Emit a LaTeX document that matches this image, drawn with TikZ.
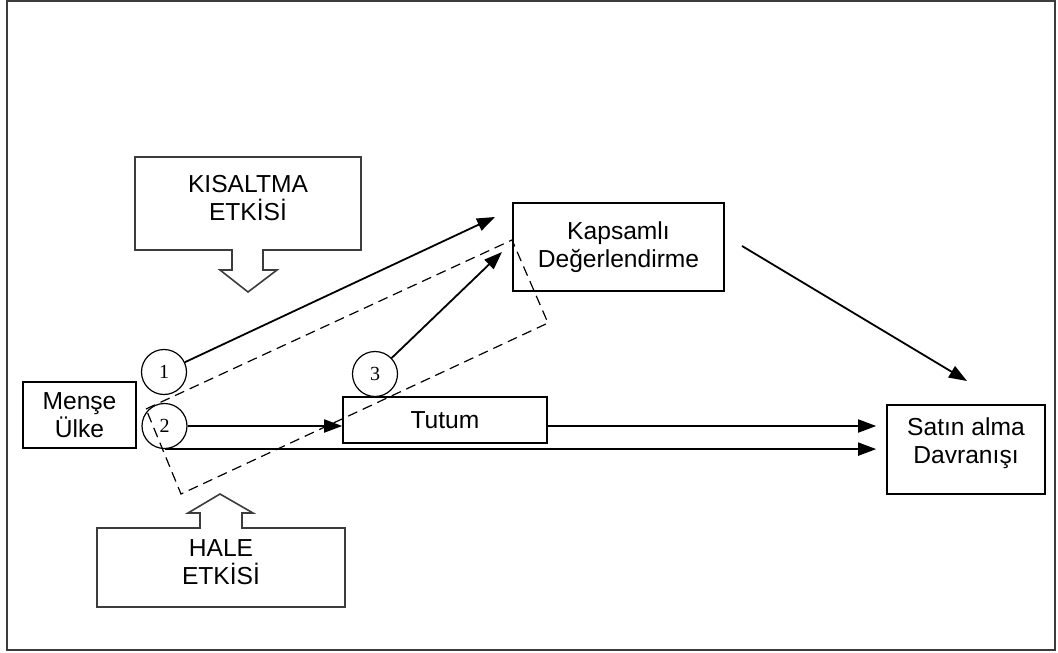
\documentclass[tikz,border=0pt]{standalone}
\usepackage{fontspec}
\setmainfont{Liberation Sans}
\newfontfamily\numfont{Liberation Serif}
\definecolor{framegray}{RGB}{60,60,60}
\definecolor{calloutgray}{RGB}{60,60,60}
\usetikzlibrary{arrows.meta,positioning,calc}

\begin{document}
\begin{tikzpicture}[x=0.5pt, y=-0.5pt,
    box/.style={rectangle, draw, line width=0.8pt, align=center, inner sep=0pt,
                font=\fontsize{12.3}{13.8}\selectfont},
    lbl/.style={align=center, inner sep=0pt, font=\fontsize{12.3}{13.8}\selectfont},
    num/.style={circle, draw, line width=0.6pt, minimum size=22.5pt, inner sep=0pt,
                font=\numfont\fontsize{10}{11}\selectfont},
    link/.style={-{Triangle[length=9pt,width=6.5pt]}, line width=0.9pt},
    callout/.style={draw=calloutgray, line width=0.8pt, line join=miter},
    zone/.style={dash pattern=on 5pt off 3pt, line width=0.6pt}]

    \useasboundingbox (0,0) rectangle (1058,652);
    \draw[framegray, line width=0.9pt] (7,1) rectangle (1055,650);

    % Boxes
    \node[box, minimum width=56.5pt, minimum height=33pt] (mense) at (79.5,415) {Menşe\\Ülke};
    \node[box, minimum width=102pt, minimum height=23pt] (tutum) at (445,420) {Tutum};
    \node[box, minimum width=105.5pt, minimum height=44pt] (kapsam) at (618.5,247) {Kapsamlı\\Değerlendirme};
    \node[box, minimum width=79pt, minimum height=44.5pt] (satin) at (966,449.5) {};
    \node[lbl] (satintext) at (966,443) {Satın alma\\Davranışı};

    % Numbered circles
    \node[num] (c1) at (164,372) {1};
    \node[num] (c2) at (164.5,426) {2};
    \node[num] (c3) at (375,374) {3};

    % Callouts
    \draw[callout] (135,157) -- (361,157) -- (361,250) -- (263,250) -- (263,270) -- (277,270)
        -- (248,292) -- (220,270) -- (232,270) -- (232,250) -- (135,250) -- cycle;
    \node[lbl] (kisa) at (248,198) {KISALTMA\\ETKİSİ};
    \draw[callout] (97,528) -- (200,528) -- (200,513) -- (188,513) -- (220,494) -- (253,513)
        -- (242,513) -- (242,528) -- (345,528) -- (345,607) -- (97,607) -- cycle;
    \node[lbl] (hale) at (221,562) {HALE\\ETKİSİ};

    % Dashed zone
    \draw[zone] (146,409) -- (512,240) -- (548,323) -- (181,494) -- cycle;

    % Free arrow ends
    \coordinate (k1) at (495,217);
    \coordinate (k3) at (502,252);
    \coordinate (k4) at (742,246);
    \coordinate (s1) at (967,381);

    % Links
    \draw[link] (c1) -- (k1);
    \draw[link] (c3) -- (k3);
    \draw[link] (c2.east) -- (c2.east -| tutum.west);
    \draw[link, shorten >=5pt] (tutum.east |- c2) -- (satin.west |- c2);
    \draw[link, shorten >=5pt] (c2.south) -- (c2.south -| satin.west);
    \draw[link] (k4) -- (s1);
\end{tikzpicture}
\end{document}
